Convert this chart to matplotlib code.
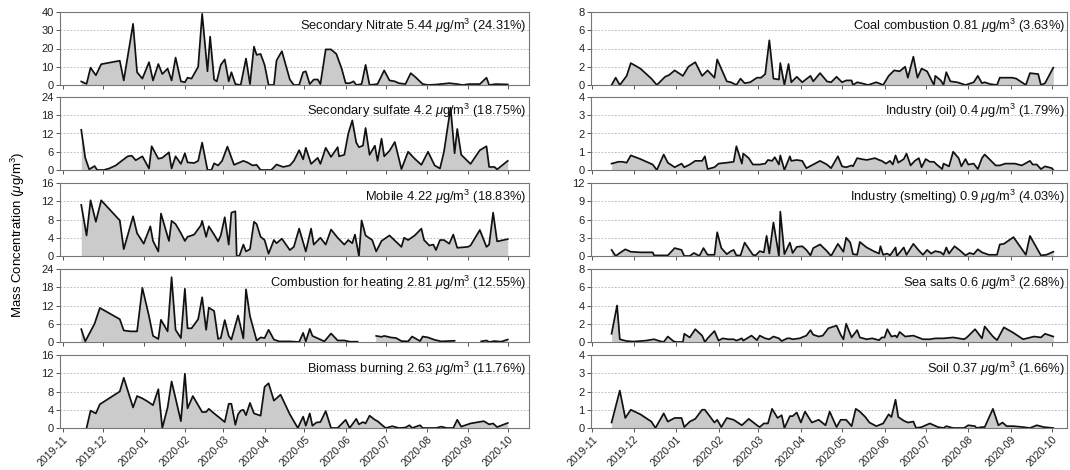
import matplotlib
matplotlib.use('Agg')
import matplotlib.pyplot as plt
import matplotlib.dates as mdates
import numpy as np
import pandas as pd

plt.rcParams['font.family'] = ['Liberation Sans', 'DejaVu Sans']
plt.rcParams['mathtext.fontset'] = 'custom'
plt.rcParams['mathtext.rm'] = 'Liberation Sans'
plt.rcParams['mathtext.it'] = 'Liberation Sans:italic'

# days counted from 2019-11-01
nitrate_days = [14, 18, 21, 25, 29, 43, 46, 53, 56, 60, 65, 68, 72, 75, 79, 82, 85, 89, 92, 94,
                97, 102, 105, 109, 111, 114, 116, 119, 122, 125, 127, 130, 134, 138, 141, 144, 146, 149, 152, 155,
                159, 161, 165, 171, 174, 178, 181, 183, 186, 189, 192, 194, 198, 202, 206, 210, 213, 216, 219, 221,
                225, 228, 231, 237, 242, 246, 250, 253, 258, 262, 266, 271, 275, 282, 291, 297, 301, 306, 314, 319,
                321, 326, 335]
nitrate = [1.9, 0.6, 9.5, 5.3, 11.4, 13.3, 2.5, 33.5, 7, 3.5, 12.5, 2.5, 11.5, 6, 9, 2.5, 15, 2, 1.5, 4,
           3.5, 10, 39, 7.5, 26.5, 3, 2, 11, 14, 2, 7, 0.5, 0, 14.5, 0.5, 21, 16.5, 17, 11, 0,
           0, 13.5, 18.5, 3, 0, 0, 7, 7.5, 0.5, 3, 3, 0.5, 19.5, 19.5, 17, 9, 1, 1, 2, 0,
           0.5, 11, 0, 0.5, 8, 2.5, 2, 1, 0.5, 6.5, 4, 0.5, 0, 0.3, 1, 0.5, 0, 0.5, 0.5, 4,
           0, 0.5, 0.3]

sulfate_days = [14, 17, 20, 24, 26, 31, 35, 40, 45, 49, 52, 55, 60, 65, 67, 72, 75, 80, 82, 85,
                89, 92, 94, 99, 102, 105, 109, 112, 114, 117, 120, 124, 129, 136, 139, 143, 146, 149, 157, 161,
                166, 171, 174, 178, 181, 183, 187, 192, 194, 198, 202, 207, 208, 212, 215, 218, 221, 223, 226, 228,
                231, 235, 237, 240, 242, 246, 250, 255, 260, 265, 270, 275, 280, 284, 287, 292, 295, 297, 300, 307,
                314, 319, 321, 325, 327, 335]
sulfate = [13.2, 4, 0.2, 1.3, 0, 0, 0.5, 1.5, 3.2, 4.5, 4.7, 3.2, 4.5, 0.5, 7.8, 3.7, 4, 5.8, 0.5, 4.5,
           2, 5.5, 2.5, 2.3, 3, 9, 0, 0, 2.2, 1.5, 3, 7.7, 1.7, 3, 2.5, 1.5, 1.7, 0, 0, 1.8,
           1, 1.5, 3, 6.5, 3.5, 7.3, 2, 4, 2, 7.3, 4.3, 7.5, 4.5, 5, 12, 16.3, 9, 7.5, 8, 13.8,
           5, 8, 3, 10.3, 4.5, 6.3, 9.2, 0.3, 6, 3.7, 1.7, 6, 1.5, 0.5, 6, 20.5, 5.5, 13.5, 5, 2,
           6.5, 7.8, 1, 1, 0.2, 3]

mobile_days = [14, 18, 21, 25, 29, 43, 46, 53, 56, 61, 66, 68, 72, 74, 80, 82, 85, 89, 92, 94,
               99, 104, 105, 108, 110, 114, 117, 119, 122, 125, 127, 130, 131, 133, 136, 138, 141, 144, 146, 149,
               152, 155, 159, 161, 165, 171, 174, 178, 183, 187, 189, 194, 198, 202, 207, 212, 215, 218, 220, 223,
               225, 228, 233, 236, 240, 246, 255, 257, 260, 265, 270, 272, 276, 279, 281, 284, 287, 291, 294, 297,
               305, 307, 314, 319, 321, 324, 327, 335]
mobile = [11.2, 4.5, 12.2, 7.5, 12.2, 7.8, 1.5, 8.7, 5, 2.7, 6.5, 3.3, 1, 9.3, 3.3, 7.7, 7, 5, 3.3, 4.2,
          4.7, 6.7, 7.7, 4.2, 6.5, 4.7, 3.2, 4.5, 8.5, 2.5, 9.5, 9.8, 0, 0, 2.5, 1, 1.5, 7.5, 7, 4.2,
          3.5, 0.5, 3.5, 2.8, 3.8, 1.3, 2, 6, 1, 6, 2.5, 4, 2.5, 5.8, 4, 2.5, 3.5, 2.8, 4.7, 0,
          7.8, 4.5, 3.5, 1, 3.3, 4.5, 2, 4, 3.5, 4.5, 6, 3.5, 2.3, 2.5, 1.3, 3.5, 3.5, 2.7, 4.7, 1.8,
          2, 2.3, 5.7, 2, 2.5, 9.5, 3.2, 3.7]

heating_days = [14, 17, 24, 28, 43, 46, 51, 56, 60, 65, 68, 72, 74, 79, 82, 85, 89, 92, 94, 97,
                102, 105, 108, 110, 114, 117, 119, 122, 125, 127, 132, 136, 138, 141, 146, 149, 152, 155, 159, 163,
                171, 178, 181, 183, 186, 188, 192, 197, 202, 207, 212, 216, 222, 229, 236, 240, 242, 247, 251, 255,
                260, 263, 269, 271, 275, 280, 285, 295, 305, 315, 319, 321, 325, 330, 335]
heating = [4.2, 0.2, 6, 11.2, 7.5, 3.8, 3.5, 3.5, 17.8, 8.5, 2, 1, 7.3, 3.5, 21.3, 4, 1.3, 17.5, 4.5, 4.5,
           7.5, 14.7, 4, 11.3, 10.2, 1, 1.3, 7.2, 2, 0.8, 8.7, 1.2, 17.3, 8.5, 0.5, 1.5, 1.3, 4, 0.8, 0.2,
           0.2, 0, 3, 0.2, 4.3, 2, 1.2, 0.2, 2.8, 0.5, 0.5, 0.1, 0.1, np.nan, 2, 1.7, 2, 1.5, 1.3, 0.3,
           0.2, 1.8, 0.3, 1.8, 1.5, 0.7, 0.2, 0.4, np.nan, 0.2, 0.5, 0, 0.3, 0.1, 0.8]

biomass_days = [18, 21, 25, 28, 43, 46, 53, 56, 60, 64, 68, 72, 75, 79, 82, 85, 89, 92, 94, 98,
                102, 105, 108, 110, 114, 117, 120, 122, 125, 127, 130, 132, 134, 136, 138, 141, 144, 149, 152, 155,
                159, 164, 171, 174, 177, 181, 183, 186, 188, 191, 194, 198, 202, 207, 213, 216, 221, 223, 226, 228,
                231, 235, 237, 243, 246, 248, 253, 258, 261, 263, 269, 271, 281, 285, 289, 294, 297, 300, 307, 317,
                321, 324, 327, 335]
biomass = [0, 3.8, 3.2, 5.2, 8, 11, 4.5, 7, 6.5, 5.8, 5, 8.5, 0, 4.5, 10.2, 6.5, 1.5, 11.9, 4.3, 7,
           5, 3.5, 3.5, 4.2, 3.2, 2.5, 1.8, 1.3, 5.3, 5.3, 0.7, 3, 3.8, 4, 2.8, 5.5, 3.2, 2.7, 9, 9.8,
           6, 7.3, 3, 1.5, 0, 2.5, 0.5, 3.2, 0.5, 1.2, 1.3, 3.7, 0, 0, 1.8, 0, 2, 0.8, 1.3, 1,
           2.7, 1.8, 1.5, 0, 0.2, 0.4, 0, 0.1, 0.6, 0, 0.6, 0, 0, 0.3, 0, 0, 1.8, 0.3, 1, 1.5,
           0.8, 1, 0.2, 1.1]

coal_days = [14, 17, 20, 25, 28, 35, 43, 47, 53, 56, 60, 66, 70, 75, 80, 84, 89, 91, 98, 101,
             105, 108, 111, 115, 120, 123, 126, 129, 132, 136, 137, 140, 143, 145, 149, 153, 159, 161, 166, 171,
             174, 178, 182, 185, 189, 190, 193, 196, 201, 207, 212, 216, 220, 224, 228, 230, 234, 237, 240, 244,
             249, 250, 254, 256, 258, 261, 266, 272, 278, 281, 284, 286, 290, 295, 297, 306, 309, 316, 319, 325,
             327, 330, 336]
coal = [0, 0.8, 0, 1, 2.4, 1.8, 0.7, 0, 0.9, 1.1, 1.6, 1, 2, 2.5, 1, 1.6, 0.8, 2.8, 0.4, 0.3,
        0, 0.7, 0.2, 0.3, 0.8, 0.8, 1.2, 4.9, 0.7, 0.6, 2.4, 0, 2.3, 0.3, 0.9, 0.3, 1, 0.4, 1.3, 0.4,
        0.3, 0.9, 0.3, 0.5, 0.5, 0, 0.3, 0.2, 0, 0.3, 0, 1, 1.6, 1.5, 2, 0.8, 3.1, 0.8, 1.8, 1.5,
        0, 1, 0.5, 0, 1.4, 0.4, 0.3, 0, 0.3, 1, 0.2, 0.3, 0.1, 0, 0.8, 0.8, 0.7, 0, 1.3, 1.2,
        0, 0.2, 1.9]

oil_days = [14, 19, 22, 25, 28, 35, 41, 44, 47, 52, 55, 60, 65, 67, 71, 75, 80, 82, 84, 89,
            92, 98, 103, 105, 109, 110, 114, 117, 122, 126, 128, 131, 133, 136, 137, 140, 144, 145, 149, 153,
            156, 161, 166, 171, 174, 179, 182, 185, 189, 190, 193, 196, 200, 206, 209, 211, 214, 217, 219, 221,
            223, 227, 229, 232, 235, 238, 240, 243, 246, 249, 251, 255, 256, 260, 263, 267, 269, 272, 274, 278,
            281, 284, 286, 290, 294, 297, 301, 308, 313, 319, 321, 324, 327, 330, 335, 336]
oil = [0.35, 0.45, 0.45, 0.4, 0.8, 0.6, 0.4, 0.3, 0, 0.85, 0.4, 0.15, 0.35, 0.15, 0.3, 0.5, 0.5, 0.75, 0.05, 0.15,
       0.35, 0.4, 0.45, 1.3, 0.35, 0.9, 0.65, 0.3, 0.3, 0.35, 0.55, 0.5, 0.7, 0.3, 0.8, 0, 0.75, 0.5, 0.55, 0.5,
       0.1, 0.3, 0.5, 0.3, 0.1, 0.75, 0.2, 0.15, 0.25, 0.2, 0.65, 0.6, 0.55, 0.65, 0.55, 0.5, 0.35, 0.5, 0.3, 0.8,
       0.4, 0.6, 0.9, 0.25, 0.5, 0.65, 0.15, 0.6, 0.45, 0.45, 0.3, 0.05, 0.35, 0.2, 1, 0.65, 0.2, 0.6, 0.3, 0.35,
       0.05, 0.65, 0.85, 0.55, 0.25, 0.25, 0.35, 0.35, 0.25, 0.5, 0.3, 0.3, 0.05, 0.2, 0.1, 0]

smelting_days = [14, 17, 20, 24, 28, 35, 44, 45, 49, 55, 60, 65, 67, 71, 74, 78, 81, 84, 89, 91,
                 94, 98, 101, 103, 105, 108, 111, 114, 117, 119, 122, 125, 127, 129, 132, 136, 137, 140, 144, 146,
                 149, 153, 156, 159, 161, 166, 171, 174, 179, 183, 185, 188, 190, 193, 195, 200, 205, 209, 210, 212,
                 215, 217, 221, 222, 227, 229, 234, 238, 241, 244, 247, 250, 254, 256, 258, 260, 264, 268, 272, 275,
                 278, 281, 284, 289, 295, 297, 300, 307, 316, 319, 327, 331, 336]
smelting = [1, 0, 0.5, 1.1, 0.7, 0.6, 0.6, 0.1, 0.1, 0.1, 1.3, 1, 0, 0, 0.5, 0, 1.3, 0.2, 0.2, 3.9,
            1.3, 0.3, 0.8, 1, 0.1, 0.1, 2.2, 1.2, 0.2, 0.1, 0.8, 0.6, 3.3, 0.4, 5.5, 0, 7.3, 0.3, 2.2, 0.5,
            1.5, 1.6, 1, 0.1, 1.3, 1.9, 0.8, 0, 2, 0.7, 3, 2.2, 0.3, 0.2, 2.3, 1.4, 0.8, 0.4, 1.6, 0.2,
            0.4, 0.1, 1.4, 0, 1.4, 0.2, 2, 0.9, 0.2, 1, 0.4, 0.8, 0.6, 0.2, 1.4, 0.4, 1.6, 0.9, 0.1, 0.5,
            0.3, 1.1, 0.6, 0.2, 0.2, 1.9, 2, 3.1, 0.2, 3.3, 0.1, 0.2, 0.7]

seasalt_days = [14, 18, 20, 25, 30, 39, 45, 49, 52, 55, 59, 61, 66, 67, 71, 75, 80, 82, 84, 89,
                92, 95, 99, 103, 105, 109, 110, 116, 120, 122, 126, 129, 132, 136, 138, 142, 144, 146, 151, 156,
                159, 161, 165, 168, 172, 178, 181, 183, 185, 189, 193, 195, 200, 204, 209, 211, 213, 215, 218, 221,
                222, 224, 228, 234, 241, 246, 250, 256, 263, 271, 273, 279, 284, 286, 292, 295, 300, 307, 314, 322,
                327, 330, 336]
seasalt = [0.9, 4, 0.3, 0.1, 0.05, 0.15, 0.3, 0.1, 0, 0.6, 0.1, 0, 0, 0.9, 0.5, 1.4, 0.7, 0, 0.4, 1.2,
           0.15, 0.4, 0.3, 0.3, 0.15, 0.4, 0.15, 0.7, 0.2, 0.7, 0.4, 0.3, 0.6, 0.4, 0.1, 0.4, 0.4, 0.3, 0.4, 0.7,
           1.3, 0.8, 0.6, 0.7, 1.5, 1.8, 0.8, 0.3, 2, 0.5, 1.3, 0.5, 0.3, 0.4, 0.2, 0.5, 0.5, 1.4, 0.6, 0.7,
           0.5, 1.1, 0.6, 0.7, 0.3, 0.3, 0.4, 0.4, 0.5, 0.3, 0.5, 1.4, 0.4, 1.7, 0.6, 0.2, 1.6, 1, 0.3, 0.6,
           0.5, 0.9, 0.6]

soil_days = [14, 20, 24, 28, 35, 43, 46, 52, 55, 60, 65, 67, 71, 75, 80, 82, 86, 89, 91, 94,
             98, 103, 109, 114, 120, 122, 125, 128, 131, 135, 138, 140, 144, 146, 149, 152, 155, 160, 165, 170,
             173, 178, 181, 185, 189, 192, 195, 199, 202, 207, 212, 216, 218, 221, 223, 227, 230, 234, 236, 240,
             246, 252, 256, 258, 263, 271, 274, 279, 280, 284, 286, 292, 296, 299, 302, 307, 314, 319, 324, 329,
             336]
soil = [0.3, 2.05, 0.55, 1, 0.75, 0.35, 0, 0.8, 0.35, 0.55, 0.55, 0.05, 0.35, 0.5, 1, 1, 0.6, 0.3, 0.45, 0.05,
        0.55, 0.45, 0.15, 0.5, 0.15, 0.05, 0.25, 0.25, 1.05, 0.55, 0.7, 0, 0.65, 0.65, 0.85, 0.3, 0.9, 0.3, 0.45, 0.15,
        0.9, 0.05, 0.45, 0.45, 0.1, 1.05, 0.9, 0.6, 0.3, 0.1, 0.25, 0.75, 0.6, 1.55, 0.6, 0.4, 0.3, 0.35, 0, 0.05,
        0.25, 0.05, 0, 0.1, 0, 0, 0.15, 0.1, 0, 0.05, 0.05, 1.05, 0.15, 0.3, 0.1, 0.1, 0.05, 0, 0.15, 0.05,
        0]

titles = ['Secondary Nitrate 5.44 $\\mu$g/m$^3$ (24.31%)',
          'Secondary sulfate 4.2 $\\mu$g/m$^3$ (18.75%)',
          'Mobile 4.22 $\\mu$g/m$^3$ (18.83%)',
          'Combustion for heating 2.81 $\\mu$g/m$^3$ (12.55%)',
          'Biomass burning 2.63 $\\mu$g/m$^3$ (11.76%)',
          'Coal combustion 0.81 $\\mu$g/m$^3$ (3.63%)',
          'Industry (oil) 0.4 $\\mu$g/m$^3$ (1.79%)',
          'Industry (smelting) 0.9 $\\mu$g/m$^3$ (4.03%)',
          'Sea salts 0.6 $\\mu$g/m$^3$ (2.68%)',
          'Soil 0.37 $\\mu$g/m$^3$ (1.66%)']
series = [(nitrate_days, nitrate), (sulfate_days, sulfate), (mobile_days, mobile),
          (heating_days, heating), (biomass_days, biomass),
          (coal_days, coal), (oil_days, oil), (smelting_days, smelting),
          (seasalt_days, seasalt), (soil_days, soil)]
ymax = [40, 24, 16, 24, 16, 8, 4, 12, 8, 4]
ystep = [10, 6, 4, 6, 4, 2, 1, 3, 2, 1]

W, H = 1070, 470
fig = plt.figure(figsize=(W / 100, H / 100), dpi=100)
base = pd.Timestamp('2019-11-01')

tops = [12, 97, 183, 269, 355]
ax_h = 73
cols = [(60, 529, '2019-10-30', '2020-10-17'), (591, 1067, '2019-10-31', '2020-10-12')]

for i in range(10):
    c, r = divmod(i, 5)
    x0, x1, d0, d1 = cols[c]
    ax = fig.add_axes([x0 / W, 1 - (tops[r] + ax_h) / H, (x1 - x0) / W, ax_h / H])
    days, vals = series[i]
    t = base + pd.to_timedelta(days, unit='D')
    v = np.array(vals, dtype=float)
    ax.fill_between(t, 0, v, color='#cbcbcb', lw=0)
    ax.plot(t, v, color='#111111', lw=1.25)
    ax.set_ylim(0, ymax[i])
    ax.set_yticks(np.arange(0, ymax[i] + 0.1, ystep[i]))
    ax.set_xlim(pd.Timestamp(d0), pd.Timestamp(d1))
    ax.xaxis.set_major_locator(mdates.MonthLocator())
    ax.xaxis.set_major_formatter(mdates.DateFormatter('%Y-%m'))
    ax.grid(axis='y', linestyle=(0, (2, 2)), color='#b0b0b0', lw=0.6)
    ax.set_axisbelow(True)
    for s in ax.spines.values():
        s.set_color('#777777')
        s.set_linewidth(0.8)
    ax.tick_params(axis='both', length=3, width=0.7, color='#555555', labelsize=8,
                   labelcolor='#222222', pad=1.5)
    if r < 4:
        ax.tick_params(axis='x', labelbottom=False)
    else:
        for lab in ax.get_xticklabels():
            lab.set_rotation(45)
            lab.set_ha('right')
            lab.set_rotation_mode('anchor')
            lab.set_fontsize(7.5)
    ax.text(0.995, 0.93, titles[i], transform=ax.transAxes, ha='right', va='top',
            fontsize=9.3, color='#111111')

fig.text(18 / W, 0.5, 'Mass Concentration ($\\mu$g/m$^3$)', rotation=90,
         ha='center', va='center', fontsize=9.5)

fig.savefig('out.png', dpi=100)
